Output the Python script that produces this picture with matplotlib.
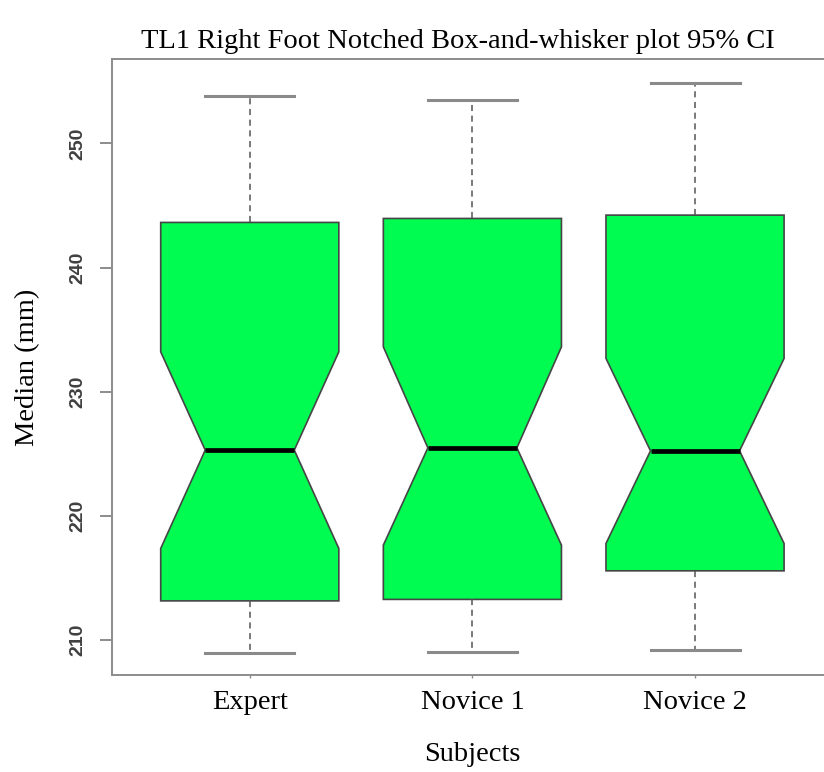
import matplotlib.pyplot as plt

subjects = ["Expert", "Novice 1", "Novice 2"]
whisker_low = [208.99, 209.07, 209.20]
q1 = [213.17, 213.29, 215.59]
notch_low = [217.39, 217.66, 217.79]
medians = [225.31, 225.49, 225.25]
notch_high = [233.22, 233.62, 232.69]
q3 = [243.64, 243.96, 244.23]
whisker_high = [253.81, 253.49, 254.83]
y_ticks = [210, 220, 230, 240, 250]

serif = "Liberation Serif"

stats = []
for i, name in enumerate(subjects):
    stats.append({
        "label": name,
        "whislo": whisker_low[i],
        "q1": q1[i],
        "cilo": notch_low[i],
        "med": medians[i],
        "cihi": notch_high[i],
        "q3": q3[i],
        "whishi": whisker_high[i],
        "fliers": [],
    })

fig = plt.figure(figsize=(8.24, 7.72), dpi=100)
ax = fig.add_axes([0.1356, 0.1256, 0.8754, 0.798])

ax.bxp(stats, positions=[1, 2, 3], widths=0.8, shownotches=True, patch_artist=True,
       showfliers=False,
       boxprops=dict(facecolor="#00fc50", edgecolor="#454545", linewidth=1.2),
       medianprops=dict(color="black", linewidth=3.4, solid_capstyle="butt"),
       whiskerprops=dict(color="#555555", linewidth=1.1, linestyle=(0, (4, 3))),
       capprops=dict(color="#8a8a8a", linewidth=2.2))

ax.set_xlim(0.38, 3.62)
ax.set_ylim(207.2, 256.8)

for s in ax.spines.values():
    s.set_color("#8c8c8c")
    s.set_linewidth(1.4)

ax.set_yticks(y_ticks)
ax.set_yticklabels([str(v) for v in y_ticks], rotation=90, va="center",
                   fontfamily="Liberation Sans", fontweight="bold",
                   fontsize=14, color="#404040")
ax.tick_params(axis="y", length=9, width=1.4, color="#8c8c8c", pad=9)
ax.tick_params(axis="x", length=2, width=1, color="#8c8c8c", pad=9)
for lbl in ax.get_xticklabels():
    lbl.set_fontfamily(serif)
    lbl.set_fontsize(20.5)

ax.set_title("TL1 Right Foot Notched Box-and-whisker plot 95% CI",
             fontfamily=serif, fontsize=20.5, pad=8, x=0.48)
ax.set_xlabel("Subjects", fontfamily=serif, fontsize=20.5, labelpad=19)
ax.set_ylabel("Median (mm)", fontfamily=serif, fontsize=20.5, labelpad=21)

fig.savefig("out.png", dpi=100)
